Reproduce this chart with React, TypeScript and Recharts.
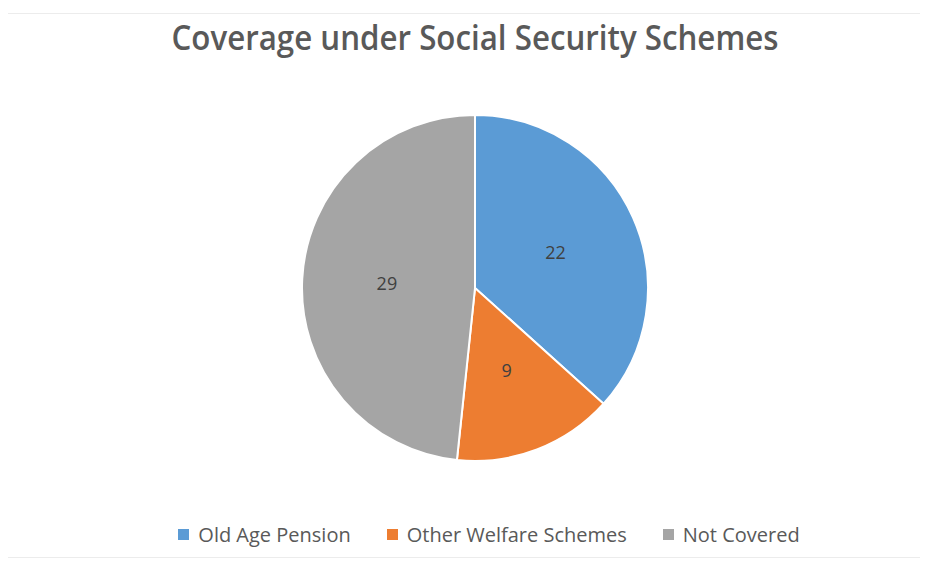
import { PieChart, Pie, Cell, Legend } from "recharts";

const categories = ["Old Age Pension", "Other Welfare Schemes", "Not Covered"];
const values = [22, 9, 29];
const colors = ["#5B9BD5", "#ED7D31", "#A5A5A5"];

const data = categories.map((name, i) => ({ name, value: values[i] }));

const RAD = Math.PI / 180;

function renderLabel(props: any) {
  const { cx, cy, midAngle, outerRadius, value } = props;
  const r = outerRadius * 0.51;
  const x = cx + r * Math.cos(-midAngle * RAD);
  const y = cy + r * Math.sin(-midAngle * RAD);
  return (
    <text
      x={x}
      y={y}
      fill="#404040"
      fontSize={18}
      fontFamily="Open Sans, sans-serif"
      textAnchor="middle"
      dominantBaseline="central"
    >
      {value}
    </text>
  );
}

function LegendBox() {
  return (
    <div
      style={{
        display: "flex",
        justifyContent: "center",
        alignItems: "center",
        gap: 36,
        fontFamily: "Open Sans, sans-serif",
        fontSize: 20,
        color: "#595959",
        whiteSpace: "nowrap",
      }}
    >
      {categories.map((c, i) => (
        <div key={c} style={{ display: "flex", alignItems: "center" }}>
          <span
            style={{
              display: "inline-block",
              width: 11,
              height: 11,
              background: colors[i],
              marginRight: 9,
            }}
          />
          <span>{c}</span>
        </div>
      ))}
    </div>
  );
}

export default function App() {
  return (
    <div style={{ margin: -8, position: "relative", width: 928, height: 567, background: "#fff" }}>
      <div
        style={{
          position: "absolute",
          left: 6,
          top: 13,
          width: 917,
          height: 545,
          border: "1px solid #ececec",
          boxSizing: "border-box",
        }}
      />
      <div
        style={{
          position: "absolute",
          left: 0,
          width: 950,
          top: 14,
          textAlign: "center",
          fontFamily: "Open Sans, sans-serif",
          fontWeight: 600,
          fontSize: 34,
          color: "#595959",
          transform: "scaleX(0.92)",
          transformOrigin: "475px 0",
        }}
      >
        Coverage under Social Security Schemes
      </div>
      <PieChart
        width={928}
        height={567}
        margin={{ top: 0, right: 0, bottom: 0, left: 0 }}
        style={{ position: "absolute", left: 0, top: 0 }}
      >
        <Pie
          data={data}
          dataKey="value"
          nameKey="name"
          cx={475}
          cy={288}
          outerRadius={173}
          startAngle={90}
          endAngle={-270}
          stroke="#ffffff"
          strokeWidth={2}
          label={renderLabel}
          labelLine={false}
          isAnimationActive={false}
        >
          {data.map((d, i) => (
            <Cell key={d.name} fill={colors[i]} />
          ))}
        </Pie>
        <Legend
          content={() => <LegendBox />}
          wrapperStyle={{ top: 521, left: 0, width: 978 }}
        />
      </PieChart>
    </div>
  );
}
